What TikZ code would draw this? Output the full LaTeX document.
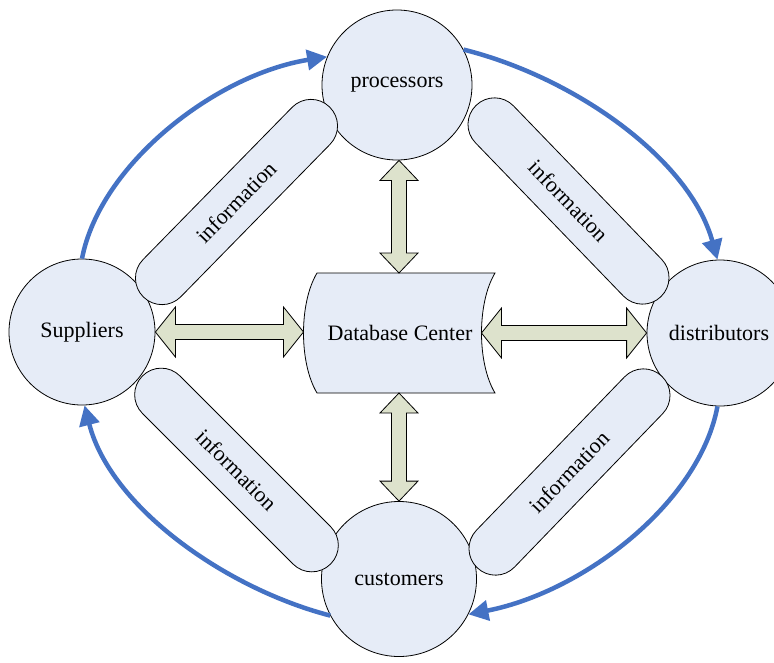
\documentclass[tikz,border=0pt]{standalone}
\usepackage{fontspec}
\setmainfont{Liberation Serif}
\usetikzlibrary{calc,arrows.meta}

\definecolor{nodefill}{RGB}{230,236,247}
\definecolor{arrowfill}{RGB}{221,226,204}
\definecolor{flowblue}{RGB}{68,114,196}

\tikzset{
  labelfont/.style={font=\fontsize{22}{26}\selectfont},
  party/.style={circle, draw=black, line width=0.8pt, fill=nodefill, inner sep=0pt, labelfont},
  infopill/.style={rectangle, rounded corners=26.4pt, draw=black, line width=0.8pt, fill=nodefill,
    minimum width=266pt, minimum height=53pt, inner sep=0pt, labelfont},
  dbshape/.style={draw=black, line width=0.8pt, fill=nodefill},
  blockarrow/.style={draw=black, line width=0.8pt, fill=arrowfill, line join=miter},
  flow/.style={draw=flowblue, line width=4.5pt, -{Triangle[length=20pt,width=20pt]}},
}

% horizontal double block arrow: #1 left tip, #2 right tip, #3 head half-width
\newcommand\hdoublearrow[3]{%
  \path[blockarrow] let \p1=(#1), \p2=(#2) in
    (\x1,\y1) -- (\x1+20pt,\y1+#3) -- (\x1+20pt,\y1+7.5pt) -- (\x2-20pt,\y1+7.5pt)
    -- (\x2-20pt,\y1+#3) -- (\x2,\y1) -- (\x2-20pt,\y1-#3) -- (\x2-20pt,\y1-7.5pt)
    -- (\x1+20pt,\y1-7.5pt) -- (\x1+20pt,\y1-#3) -- cycle;}

% vertical double block arrow: #1 upper tip, #2 lower tip, #3 head half-width
\newcommand\vdoublearrow[3]{%
  \path[blockarrow] let \p1=(#1), \p2=(#2) in
    (\x1,\y1) -- (\x1+#3,\y1-20pt) -- (\x1+7.5pt,\y1-20pt) -- (\x1+7.5pt,\y2+20pt)
    -- (\x1+#3,\y2+20pt) -- (\x1,\y2) -- (\x1-#3,\y2+20pt) -- (\x1-7.5pt,\y2+20pt)
    -- (\x1-7.5pt,\y1-20pt) -- (\x1-#3,\y1-20pt) -- cycle;}

\begin{document}
\begin{tikzpicture}[x=1pt, y=-1pt]
  \useasboundingbox (0,0) rectangle (774,662);

  % the four parties of the chain
  \node[party, minimum size=150pt] (proc) at (397,85)  {processors};
  \node[party, minimum size=146pt] (sup)  at (82,332)  {Suppliers};
  \node[party, minimum size=146pt] (dist) at (720,333) {\hspace*{-2pt}distributors};
  \node[party, minimum size=155pt] (cust) at (399,579) {customers};

  % information channels
  \node[infopill, rotate=45.6]  (infoA) at (236.5,202) {information};
  \node[infopill, rotate=-46]   (infoB) at (568.5,201) {information};
  \node[infopill, rotate=-45]   (infoC) at (236.5,470) {information};
  \node[infopill, rotate=46]    (infoD) at (569.5,472) {information};

  % central database (stored-data shape)
  \coordinate (db) at (400,333);
  \path[dbshape] ($(db)+(-83,-60)$) -- ($(db)+(95,-60)$)
    .. controls ($(db)+(77,-30)$) and ($(db)+(77,30)$) .. ($(db)+(95,60)$)
    -- ($(db)+(-83,60)$)
    .. controls ($(db)+(-101,30)$) and ($(db)+(-101,-30)$) .. cycle;
  \node[labelfont, inner sep=0pt] (dbtext) at (db) {Database Center};
  \coordinate (dbW) at ($(db)+(-96.5,0)$);
  \coordinate (dbE) at ($(db)+(81.5,0)$);
  \coordinate (dbN) at ($(db)+(-1,-60)$);
  \coordinate (dbS) at ($(db)+(-1,60)$);

  % data exchange with the database
  \hdoublearrow{sup.east}{dbW}{25pt}
  \hdoublearrow{dbE}{dist.west}{25pt}
  \vdoublearrow{proc.south -| dbN}{dbN}{19pt}
  \vdoublearrow{dbS}{cust.north -| dbS}{19pt}

  % material flow around the chain
  \draw[flow] (sup.90) .. controls ($(sup.90)+(18,-94)$) and ($(proc.158)+(-112,18)$) .. (proc.158);
  \draw[flow] (proc.28) .. controls ($(proc.28)+(112,28)$) and ($(dist.92)+(-27.5,-100)$) .. (dist.92);
  \draw[flow] (dist.268) .. controls ($(dist.268)+(-17.5,95)$) and ($(cust.333)+(117,-23)$) .. (cust.333);
  \draw[flow] (cust.208) .. controls ($(cust.208)+(-105.6,-27.4)$) and ($(sup.272)+(25.5,101)$) .. (sup.272);
\end{tikzpicture}
\end{document}
